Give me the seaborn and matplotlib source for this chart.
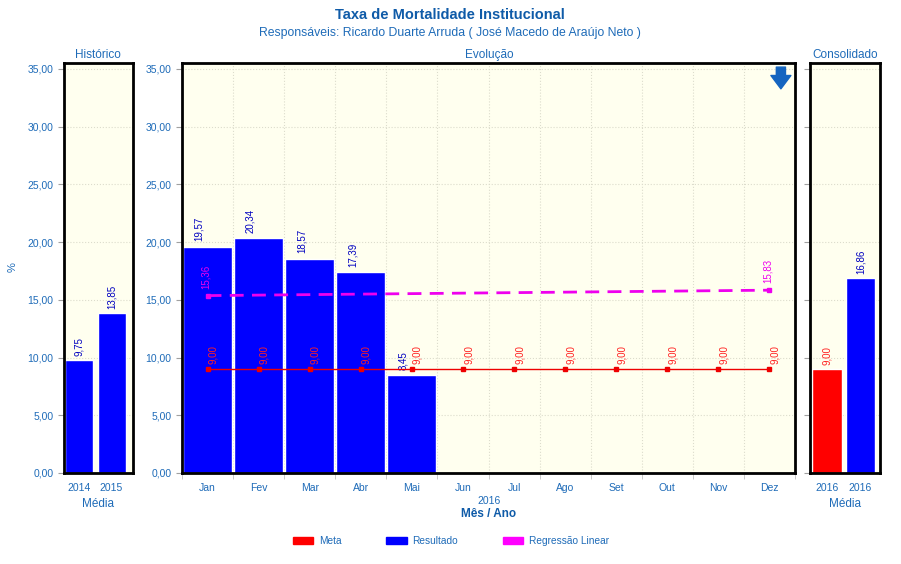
import numpy as np
import pandas as pd
import seaborn as sns
import matplotlib.pyplot as plt
from matplotlib.patches import Patch

# dados
meses = ['Jan', 'Fev', 'Mar', 'Abr', 'Mai', 'Jun', 'Jul', 'Ago', 'Set', 'Out', 'Nov', 'Dez']
resultado_meses = ['Jan', 'Fev', 'Mar', 'Abr', 'Mai']
resultado = [19.57, 20.34, 18.57, 17.39, 8.45]
meta = [9.00] * 12
regressao_meses = ['Jan', 'Dez']
regressao = [15.36, 15.83]

hist_anos = ['2014', '2015']
hist_valores = [9.75, 13.85]

cons_series = ['Meta', 'Resultado']
cons_anos = ['2016', '2016']
cons_valores = [9.00, 16.86]

AZUL_TXT = '#1E6BB8'
AZUL_TIT = '#0F5BA8'
AZUL_VAL = '#0000C0'
VERM_VAL = '#FF2020'
MAG = '#EE00EE'
FUNDO = '#FFFFEF'
W, H = 901, 564


def fmt(v):
    return '{:.2f}'.format(v).replace('.', ',')


sns.set_style('white')
plt.rcParams['font.family'] = ['Liberation Sans', 'DejaVu Sans']

fig = plt.figure(figsize=(W / 100, H / 100), dpi=100)
bottom = (H - 473) / H
height = 410 / H
ax_h = fig.add_axes([64 / W, bottom, 69 / W, height])
ax_m = fig.add_axes([182 / W, bottom, 613 / W, height])
ax_c = fig.add_axes([810 / W, bottom, 70 / W, height])

# Historico
df_h = pd.DataFrame({'ano': hist_anos, 'valor': hist_valores})
sns.barplot(data=df_h, x='ano', y='valor', color='#0000FF', saturation=1,
            width=0.86, errorbar=None, ax=ax_h)
ax_h.bar_label(ax_h.containers[0], labels=[fmt(v) for v in hist_valores],
               rotation=90, padding=3, fontsize=7, color=AZUL_VAL)
ax_h.set_xlim(-0.46, 1.66)

# Evolucao
df_m = pd.DataFrame({'mes': resultado_meses, 'valor': resultado})
sns.barplot(data=df_m, x='mes', y='valor', order=meses, color='#0000FF', saturation=1,
            width=0.96, errorbar=None, ax=ax_m, zorder=2)
for bar, v in zip(ax_m.containers[0], resultado):
    ax_m.annotate(fmt(v), (bar.get_x() + bar.get_width() / 2, bar.get_height()),
                  xytext=(-6, 4), textcoords='offset points', rotation=90,
                  ha='center', va='bottom', fontsize=7, color=AZUL_VAL)
pos = {m: i for i, m in enumerate(meses)}
ax_m.plot([pos[m] for m in meses], meta, color='#EE0000', lw=1, marker='s', ms=3, zorder=3)
for m, v in zip(meses, meta):
    ax_m.annotate(fmt(v), (pos[m], v), xytext=(4, 4), textcoords='offset points',
                  rotation=90, ha='center', va='bottom', fontsize=7, color=VERM_VAL)
rx = [pos[m] for m in regressao_meses]
ax_m.plot(rx, regressao, color=MAG, lw=2, ls=(0, (5, 3)), zorder=3)
ax_m.plot(rx, regressao, color=MAG, lw=0, marker='s', ms=3.5, zorder=3)
for x, v in zip(rx, regressao):
    ax_m.annotate(fmt(v), (x, v), xytext=(-1, 5), textcoords='offset points',
                  rotation=90, ha='center', va='bottom', fontsize=7, color=MAG)
ax_m.set_xlim(-0.5, 11.5)
ax_m.set_xticks(np.arange(-0.5, 12, 1), minor=True)
ax_m.xaxis.grid(True, which='minor', color='#DCDCCC', ls=':', lw=0.8)
ax_m.annotate('', xy=(0.977, 0.937), xytext=(0.977, 0.99), xycoords='axes fraction',
              arrowprops=dict(arrowstyle='simple,head_width=1.2,head_length=0.8,tail_width=0.55',
                              color='#1565C0', mutation_scale=12, shrinkA=0, shrinkB=0))

# Consolidado
df_c = pd.DataFrame({'serie': cons_series, 'valor': cons_valores})
sns.barplot(data=df_c, x='serie', y='valor', hue='serie',
            palette={'Meta': '#FF0000', 'Resultado': '#0000FF'}, saturation=1,
            width=0.88, errorbar=None, legend=False, ax=ax_c)
for cont, v, cor in zip(ax_c.containers, cons_valores, [VERM_VAL, AZUL_VAL]):
    ax_c.bar_label(cont, labels=[fmt(v)], rotation=90, padding=3, fontsize=7, color=cor)
ax_c.set_xticks([0, 1])
ax_c.set_xticklabels(cons_anos)
ax_c.set_xlim(-0.5, 1.58)

for ax in (ax_h, ax_m, ax_c):
    ax.set_facecolor(FUNDO)
    ax.set_ylim(0, 35.5)
    ax.set_yticks(np.arange(0, 36, 5))
    ax.yaxis.grid(True, color='#DCDCCC', ls=':', lw=0.8)
    ax.set_axisbelow(True)
    ax.set_xlabel('')
    ax.set_ylabel('')
    for s in ax.spines.values():
        s.set_color('black')
        s.set_linewidth(2)
    ax.tick_params(axis='both', labelsize=7.5, labelcolor=AZUL_TXT, color='#A0A0A0',
                   length=4, width=0.8, left=True, bottom=False)
    ax.tick_params(axis='x', which='minor', bottom=True, length=4, color='#C0C0C0')

ax_h.set_yticklabels([fmt(v) for v in ax_h.get_yticks()])
ax_m.set_yticklabels([fmt(v) for v in ax_m.get_yticks()])
ax_c.set_yticklabels([])

# textos
fig.text(450 / W, 1 - 15 / H, 'Taxa de Mortalidade Institucional', ha='center', va='center',
         fontsize=10.5, fontweight='bold', color=AZUL_TIT)
fig.text(450 / W, 1 - 33 / H, 'Responsáveis: Ricardo Duarte Arruda ( José Macedo de Araújo Neto )',
         ha='center', va='center', fontsize=8.8, color=AZUL_TXT)
fig.text(98 / W, 1 - 55 / H, 'Histórico', ha='center', va='center', fontsize=8.5, color=AZUL_TXT)
fig.text(489 / W, 1 - 55 / H, 'Evolução', ha='center', va='center', fontsize=8.5, color=AZUL_TXT)
fig.text(845 / W, 1 - 55 / H, 'Consolidado', ha='center', va='center', fontsize=8.5, color=AZUL_TXT)
fig.text(98 / W, 1 - 504 / H, 'Média', ha='center', va='center', fontsize=8.5, color=AZUL_TXT)
fig.text(845 / W, 1 - 504 / H, 'Média', ha='center', va='center', fontsize=8.5, color=AZUL_TXT)
fig.text(489 / W, 1 - 501 / H, '2016', ha='center', va='center', fontsize=7.5, color=AZUL_TXT)
fig.text(489 / W, 1 - 514 / H, 'Mês / Ano', ha='center', va='center', fontsize=8.5,
         fontweight='bold', color=AZUL_TIT)
fig.text(13 / W, 1 - 267 / H, '%', ha='center', va='center', rotation=90, fontsize=8, color=AZUL_TXT)

handles = [Patch(color='#FF0000', label='Meta'), Patch(color='#0000FF', label='Resultado'),
           Patch(color='#FF00FF', label='Regressão Linear')]
leg = fig.legend(handles=handles, loc='center', bbox_to_anchor=(451 / W, 1 - 541 / H), ncol=3,
                 frameon=False, fontsize=7.3, handlelength=2.0, handleheight=0.8,
                 columnspacing=4.4, handletextpad=0.6)
for t in leg.get_texts():
    t.set_color(AZUL_TXT)

fig.savefig('out.png', dpi=100)
